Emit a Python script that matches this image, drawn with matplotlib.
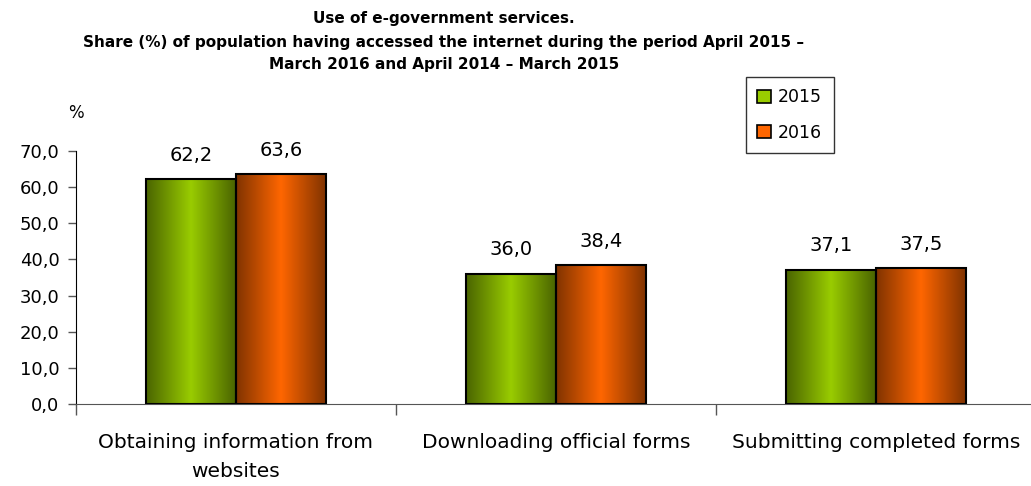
import numpy as np
import matplotlib.pyplot as plt
from matplotlib.colors import LinearSegmentedColormap
from matplotlib.patches import Rectangle

# data
categories = ['Obtaining information from\nwebsites', 'Downloading official forms',
              'Submitting completed forms']
vals_2015 = [62.2, 36.0, 37.1]
vals_2016 = [63.6, 38.4, 37.5]
years = ['2015', '2016']

plt.rcParams['font.family'] = ['DejaVu Sans']

green = LinearSegmentedColormap.from_list('g', ['#4a6400', '#99cc00', '#4a6400'])
orange = LinearSegmentedColormap.from_list('o', ['#803300', '#ff6600', '#803300'])

fig = plt.figure(figsize=(10.31, 4.86), dpi=100)
ax = fig.add_axes([76 / 1031, 1 - 404 / 486, 960 / 1031, 253 / 486])

x = np.arange(len(categories))
w = 0.28
grad = np.linspace(0, 1, 256).reshape(1, -1)

for vals, off, cmap in [(vals_2015, -w / 2, green), (vals_2016, w / 2, orange)]:
    for xi, v in zip(x, vals):
        x0 = xi + off - w / 2
        ax.imshow(grad, extent=(x0, x0 + w, 0, v), aspect='auto', cmap=cmap,
                  origin='lower', zorder=2)
        ax.add_patch(Rectangle((x0, 0), w, v, fill=False, ec='black', lw=1.5, zorder=3))
        ax.text(xi + off, v + 4, f'{v:.1f}'.replace('.', ','), ha='center', va='bottom',
                fontsize=14)

ax.set_xlim(-0.5, 2.5)
ax.set_ylim(0, 70)
ax.set_yticks(np.arange(0, 71, 10))
ax.set_yticklabels([f'{t:.1f}'.replace('.', ',') for t in np.arange(0, 71, 10)], fontsize=13)
ax.set_xticks([-0.5, 0.5, 1.5, 2.5])
ax.set_xticklabels([])
ax.set_xticks(x, minor=True)
ax.set_xticklabels(categories, minor=True, fontsize=14.5, linespacing=1.65)
ax.tick_params(axis='x', which='minor', length=0, pad=21)
ax.tick_params(axis='x', which='major', length=8, width=1, color='#555555')
ax.tick_params(axis='y', length=6, width=1, color='#555555', pad=6)
for s in ['top', 'right']:
    ax.spines[s].set_visible(False)
ax.spines['bottom'].set_color('#555555')
ax.spines['left'].set_color('black')

ax.text(-0.5, 78, '%', ha='center', va='bottom', fontsize=12)

fig.text(444 / 1031, 1 - 18 / 486, 'Use of e-government services.', ha='center', va='center',
         fontsize=11, fontweight='bold')
fig.text(444 / 1031, 1 - 42 / 486,
         'Share (%) of population having accessed the internet during the period April 2015 \u2013',
         ha='center', va='center', fontsize=11, fontweight='bold')
fig.text(444 / 1031, 1 - 65 / 486, 'March 2016 and April 2014 \u2013 March 2015',
         ha='center', va='center', fontsize=11, fontweight='bold')

handles = [Rectangle((0, 0), 1, 1, fc='#99cc00', ec='black', lw=1.2),
           Rectangle((0, 0), 1, 1, fc='#ff6600', ec='black', lw=1.2)]
leg = fig.legend(handles, years, loc='upper left', bbox_to_anchor=(746 / 1031, 1 - 77 / 486),
                 fontsize=12.5, frameon=True, fancybox=False, edgecolor='black',
                 handlelength=0.8, handleheight=0.8, handletextpad=0.4, labelspacing=1.0,
                 borderpad=0.65, borderaxespad=0)
leg.get_frame().set_linewidth(1)

fig.savefig('out.png', dpi=100)
